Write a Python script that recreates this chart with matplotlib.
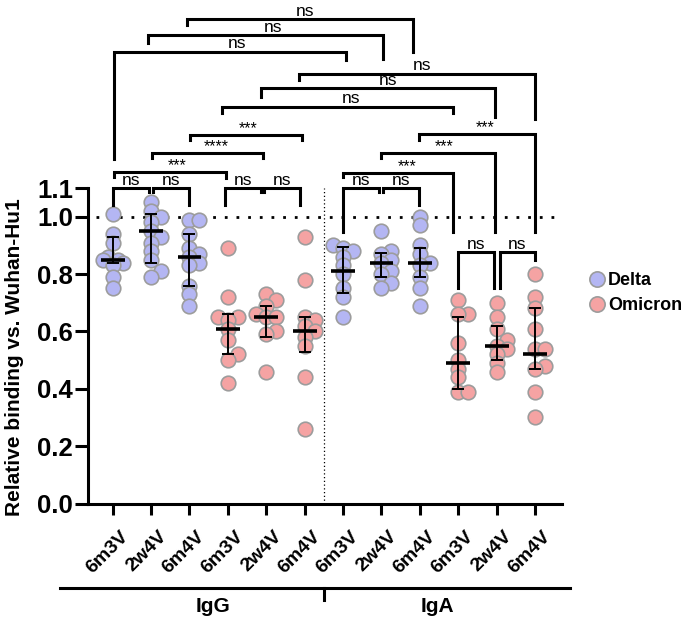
import numpy as np
import matplotlib
matplotlib.use("Agg")
import matplotlib.pyplot as plt
from matplotlib.transforms import blended_transform_factory
from matplotlib.lines import Line2D

plt.rcParams['font.family'] = ['Liberation Sans', 'DejaVu Sans']

# values (relative binding vs. Wuhan-Hu1)
igg_delta_6m3v = [1.01, 0.94, 0.91, 0.86, 0.85, 0.85, 0.84, 0.83, 0.79, 0.75]
igg_delta_2w4v = [1.05, 1.02, 1.00, 0.98, 0.95, 0.93, 0.91, 0.88, 0.85, 0.81, 0.79]
igg_delta_6m4v = [0.99, 0.99, 0.94, 0.89, 0.87, 0.86, 0.84, 0.83, 0.76, 0.73, 0.69]
igg_omi_6m3v = [0.89, 0.72, 0.65, 0.65, 0.64, 0.61, 0.57, 0.52, 0.50, 0.42]
igg_omi_2w4v = [0.73, 0.71, 0.69, 0.66, 0.65, 0.65, 0.60, 0.59, 0.46]
igg_omi_6m4v = [0.93, 0.78, 0.65, 0.64, 0.62, 0.60, 0.58, 0.55, 0.44, 0.26]
iga_delta_6m3v = [0.90, 0.89, 0.88, 0.86, 0.83, 0.80, 0.75, 0.72, 0.65]
iga_delta_2w4v = [0.95, 0.88, 0.87, 0.85, 0.84, 0.81, 0.80, 0.77, 0.75]
iga_delta_6m4v = [1.00, 0.97, 0.90, 0.87, 0.84, 0.83, 0.79, 0.75, 0.69]
iga_omi_6m3v = [0.71, 0.66, 0.66, 0.56, 0.50, 0.47, 0.44, 0.39, 0.39]
iga_omi_2w4v = [0.70, 0.65, 0.61, 0.57, 0.55, 0.54, 0.52, 0.49, 0.46]
iga_omi_6m4v = [0.80, 0.72, 0.68, 0.61, 0.54, 0.54, 0.48, 0.47, 0.39, 0.30]

columns = [igg_delta_6m3v, igg_delta_2w4v, igg_delta_6m4v,
           igg_omi_6m3v, igg_omi_2w4v, igg_omi_6m4v,
           iga_delta_6m3v, iga_delta_2w4v, iga_delta_6m4v,
           iga_omi_6m3v, iga_omi_2w4v, iga_omi_6m4v]
variant = ['Delta'] * 3 + ['Omicron'] * 3 + ['Delta'] * 3 + ['Omicron'] * 3

# median with interquartile range, as drawn in the reference
medians = [0.85, 0.95, 0.86, 0.61, 0.65, 0.60, 0.81, 0.84, 0.84, 0.49, 0.55, 0.52]
q_low = [0.84, 0.84, 0.76, 0.52, 0.58, 0.53, 0.735, 0.79, 0.79, 0.40, 0.50, 0.47]
q_high = [0.93, 1.01, 0.94, 0.66, 0.69, 0.65, 0.895, 0.875, 0.89, 0.65, 0.62, 0.68]

tick_labels = ['6m3V', '2w4V', '6m4V'] * 4
groups = ['IgG', 'IgA']

# significance brackets:
# x1, x2, bar height, left leg end, right leg end, label, label x nudge
brackets = [
    (1.93, 7.83, 1.690, 1.667, 1.576, 'ns', 0.13),
    (0.93, 7.05, 1.633, 1.607, 1.551, 'ns', 0.18),
    (0.03, 6.08, 1.576, 1.202, 1.548, 'ns', 0.18),
    (4.85, 11.0, 1.499, 1.478, 1.342, 'ns', 0.13),
    (3.86, 9.96, 1.447, 1.419, 1.346, 'ns', 0.25),
    (2.85, 8.86, 1.384, 1.363, 1.363, 'ns', 0.35),
    (2.01, 4.93, 1.286, 1.269, 1.269, '***', 0.05),
    (1.02, 3.92, 1.223, 1.206, 1.206, '****', 0.22),
    (0.03, 2.95, 1.157, 1.140, 1.136, '***', 0.2),
    (7.98, 11.0, 1.290, 1.269, 0.947, '***', 0.22),
    (6.99, 9.96, 1.223, 1.206, 0.947, '***', 0.15),
    (6.00, 8.86, 1.154, 1.140, 0.947, '***', 0.25),
    (0.02, 0.95, 1.101, 1.042, 1.087, 'ns', 0.0),
    (1.06, 1.99, 1.101, 1.087, 1.042, 'ns', 0.0),
    (2.92, 3.85, 1.101, 1.042, 1.087, 'ns', 0.0),
    (3.94, 4.88, 1.101, 1.087, 1.042, 'ns', 0.0),
    (5.99, 6.94, 1.101, 0.947, 1.087, 'ns', 0.0),
    (7.05, 7.98, 1.101, 1.087, 1.042, 'ns', 0.0),
    (8.99, 9.92, 0.878, 0.752, 0.752, 'ns', 0.0),
    (10.08, 11.0, 0.878, 0.752, 0.850, 'ns', 0.0),
]

colors = {'Delta': '#b4b6f3', 'Omicron': '#f5a3a3'}
edge = '#9c9c9c'

# pixels per data unit (approx), used only for the swarm spread
PX_X, PX_Y = 38.4, 286.5


def swarm(vals, d=8.5, step=5.0):
    placed = []
    offs = np.zeros(len(vals))
    for i in np.argsort(vals):
        y = vals[i] * PX_Y
        best = None
        for k in [0, 1, -1, 2, -2]:
            x = k * step
            if all((x - px) ** 2 + (y - py) ** 2 >= d * d for px, py in placed):
                best = x
                break
        if best is None:
            best = step * (1 if len(placed) % 2 else -1)
        placed.append((best, y))
        offs[i] = best / PX_X
    return offs


fig = plt.figure(figsize=(6.85, 6.23), dpi=100)
ax = fig.add_axes([0.1289, 0.1918, 0.6915, 0.5064])
tr = blended_transform_factory(ax.transData, ax.transAxes)

xpos = np.arange(len(columns))
for i, vals in enumerate(columns):
    vals = np.array(vals)
    ax.scatter(xpos[i] + swarm(vals), vals, s=110, color=colors[variant[i]],
               edgecolor=edge, linewidth=1.2, zorder=3, clip_on=False)

med = np.array(medians)
ax.errorbar(xpos, med, yerr=[med - np.array(q_low), np.array(q_high) - med],
            fmt='none', ecolor='black', elinewidth=1.4, capsize=4.6,
            capthick=1.4, zorder=4)
ax.hlines(med, xpos - 0.31, xpos + 0.31, color='black', lw=2.6, zorder=5)

ax.plot([-0.43, 11.57], [1.0, 1.0], color='black', lw=2.0,
        linestyle=(0, (1, 3.2)), zorder=2)
ax.plot([5.5, 5.5], [0, 1.1], color='black', lw=0.9, linestyle=(0, (1, 2)),
        zorder=1)

for x1, x2, yb, y1, y2, lab, nudge in brackets:
    ax.plot([x1, x1, x2, x2], [y1, yb, yb, y2], color='black', lw=2.2,
            solid_joinstyle='miter', clip_on=False, zorder=6)
    if lab == 'ns':
        ax.text((x1 + x2) / 2 + nudge, yb + 0.011, lab, ha='center',
                va='baseline', fontsize=12.5)
    else:
        ax.text((x1 + x2) / 2 + nudge, yb + 0.004, lab, ha='center',
                va='baseline', fontsize=11.5)

ax.set_xlim(-0.635, 11.70)
ax.set_ylim(0, 1.1)
ax.set_yticks([0, 0.2, 0.4, 0.6, 0.8, 1.0, 1.1])
ax.set_yticklabels(['0.0', '0.2', '0.4', '0.6', '0.8', '1.0', '1.1'],
                   fontsize=18.5, fontweight='bold')
ax.set_xticks(xpos)
ax.set_xticklabels([])
# rotated category labels, placed by hand under each tick
for i, lab in enumerate(tick_labels):
    ax.text(xpos[i] + 0.18, -0.078, lab, transform=tr, rotation=45,
            ha='right', va='top', rotation_mode='anchor', fontsize=14,
            fontweight='bold')
ax.tick_params(axis='y', length=9.5, width=2.2, pad=1.5)
ax.tick_params(axis='x', length=8, width=2.2)

for s in ['top', 'right']:
    ax.spines[s].set_visible(False)
for s in ['left', 'bottom']:
    ax.spines[s].set_linewidth(2.2)

fig.text(15 / 685, 1 - 357 / 623, 'Relative binding vs. Wuhan-Hu1',
         rotation=90, ha='center', va='center', fontsize=15,
         fontweight='bold')

# group bar under the tick labels
ax.plot([-1.37, 11.9], [-0.268, -0.268], color='black', lw=2.2,
        transform=tr, clip_on=False)
ax.plot([5.5, 5.5], [-0.268, -0.306], color='black', lw=2.2,
        transform=tr, clip_on=False)
ax.text(2.6, -0.327, groups[0], transform=tr, ha='center', va='center',
        fontsize=15, fontweight='bold')
ax.text(8.45, -0.327, groups[1], transform=tr, ha='center', va='center',
        fontsize=15, fontweight='bold')

handles = [Line2D([], [], marker='o', linestyle='none', markersize=11,
                  markerfacecolor=colors[v], markeredgecolor=edge,
                  markeredgewidth=1.2) for v in ['Delta', 'Omicron']]
fig.legend(handles, ['Delta', 'Omicron'], loc='upper left',
           bbox_to_anchor=(589 / 685, 1 - 272 / 623), frameon=False,
           borderpad=0, borderaxespad=0, handlelength=0.9,
           handletextpad=0.15, labelspacing=0.45,
           prop={'weight': 'bold', 'size': 13})

fig.savefig('out.png', dpi=100)
